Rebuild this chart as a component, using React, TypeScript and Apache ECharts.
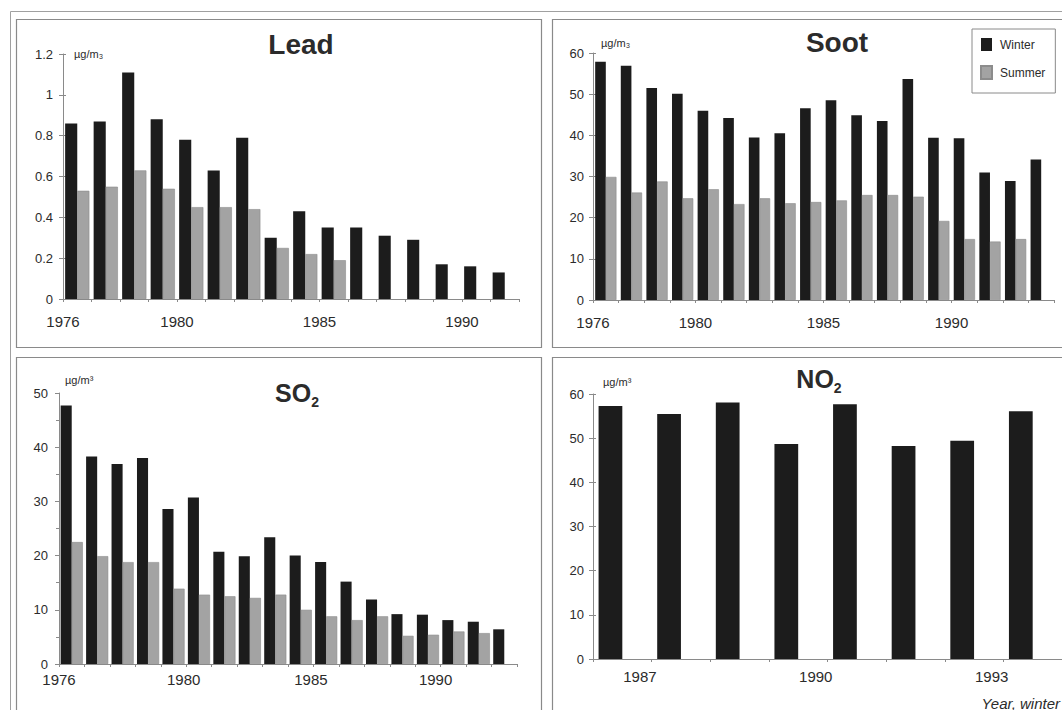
import React, { useEffect, useRef } from 'react';
import * as echarts from 'echarts';

// ---------- DATA ----------
const leadYears = ['1976', '1977', '1978', '1979', '1980', '1981', '1982', '1983', '1984', '1985', '1986', '1987', '1988', '1989', '1990', '1991'];
const leadWinter = [0.86, 0.87, 1.11, 0.88, 0.78, 0.63, 0.79, 0.3, 0.43, 0.35, 0.35, 0.31, 0.29, 0.17, 0.16, 0.13];
const leadSummer = [0.53, 0.55, 0.63, 0.54, 0.45, 0.45, 0.44, 0.25, 0.22, 0.19, null, null, null, null, null, null];

const sootYears = ['1976', '1977', '1978', '1979', '1980', '1981', '1982', '1983', '1984', '1985', '1986', '1987', '1988', '1989', '1990', '1991', '1992', '1993'];
const sootWinter = [57.9, 56.9, 51.5, 50.1, 46.0, 44.2, 39.5, 40.5, 46.6, 48.5, 44.9, 43.5, 53.7, 39.4, 39.3, 31.0, 28.9, 34.1];
const sootSummer = [29.9, 26.1, 28.8, 24.7, 26.9, 23.3, 24.7, 23.5, 23.8, 24.2, 25.5, 25.5, 25.1, 19.2, 14.8, 14.2, 14.8, null];

const so2Years = ['1976', '1977', '1978', '1979', '1980', '1981', '1982', '1983', '1984', '1985', '1986', '1987', '1988', '1989', '1990', '1991', '1992', '1993'];
const so2Winter = [47.7, 38.3, 36.9, 38.0, 28.6, 30.7, 20.7, 19.9, 23.4, 20.0, 18.8, 15.2, 11.9, 9.2, 9.1, 8.1, 7.8, 6.4];
const so2Summer = [22.5, 19.9, 18.8, 18.8, 13.9, 12.8, 12.5, 12.2, 12.8, 10.0, 8.8, 8.1, 8.8, 5.2, 5.4, 6.0, 5.7, null];

const no2Years = ['1987', '1988', '1989', '1990', '1991', '1992', '1993', '1994'];
const no2Winter = [57.3, 55.5, 58.1, 48.7, 57.7, 48.2, 49.4, 56.1];
const no2Summer = [null, null, null, null, null, null, null, null];

const yearTicks7690 = ['1976', '1980', '1985', '1990'];
const no2Ticks = ['1987', '1990', '1993'];

const leadYMax = 1.2, leadYStep = 0.2;
const sootYMax = 60, sootYStep = 10;
const so2YMax = 50, so2YStep = 10;
const no2YMax = 60, no2YStep = 10;

const seriesNames = ['Winter', 'Summer'];
const unitSub = 'µg/m₃';
const unitSup = 'µg/m³';
const xAxisTitle = 'Year, winter';

// ---------- STYLE ----------
const FONT = "'Liberation Sans', Arial, Helvetica, sans-serif";
const AXIS = '#8a8a8a';
const TEXT = '#2b2b2b';
const WINTER = '#1c1c1c';
const SUMMER = '#a3a3a3';

export default function App() {
  const ref = useRef<HTMLDivElement>(null);

  useEffect(() => {
    if (!ref.current) return;
    const chart = echarts.init(ref.current, undefined, { renderer: 'svg' });

    const panels = [
      {
        cats: leadYears, winter: leadWinter, summer: leadSummer, max: leadYMax, step: leadYStep,
        unit: unitSub, labels: yearTicks7690, shift: [0, 0, 0, 0],
        grid: { left: 63, top: 54, width: 456, height: 245 }, gap: '15%',
        xMargin: 15, yMargin: 10, nameGap: 0, namePad: 11, cross: true, minor: false,
      },
      {
        cats: sootYears, winter: sootWinter, summer: sootSummer, max: sootYMax, step: sootYStep,
        unit: unitSub, labels: yearTicks7690, shift: [0, 0, 0, 0],
        grid: { left: 593, top: 53, width: 461, height: 247 }, gap: '17%',
        xMargin: 15, yMargin: 9, nameGap: 10, namePad: 8, cross: true, minor: false,
      },
      {
        cats: so2Years, winter: so2Winter, summer: so2Summer, max: so2YMax, step: so2YStep,
        unit: unitSup, labels: yearTicks7690, shift: [0, 0.9, 0.9, 0.8],
        grid: { left: 59, top: 393, width: 458, height: 271 }, gap: '13%',
        xMargin: 8, yMargin: 11, nameGap: 13, namePad: 6, cross: false, minor: true,
      },
      {
        cats: no2Years, winter: no2Winter, summer: no2Summer, max: no2YMax, step: no2YStep,
        unit: unitSup, labels: no2Ticks, shift: [0.8, 0.8, 0.8],
        grid: { left: 593, top: 394, width: 472, height: 265 }, gap: '19%',
        xMargin: 10, yMargin: 9, nameGap: 12, namePad: 10, cross: true, minor: false,
      },
    ];

    const grids: any[] = [];
    const xAxes: any[] = [];
    const yAxes: any[] = [];
    const series: any[] = [];

    panels.forEach((p, i) => {
      grids.push({ ...p.grid, containLabel: false });
      const pos = p.labels.map((l, k) => p.cats.indexOf(l) + p.shift[k]);
      xAxes.push({
        type: 'category', gridIndex: i, data: p.cats, boundaryGap: true, position: 'bottom',
        axisLine: { show: true, lineStyle: { color: AXIS, width: 1 } },
        axisTick: { show: true, interval: 0, length: 3, lineStyle: { color: AXIS } },
        axisLabel: { show: false }, splitLine: { show: false },
      });
      xAxes.push({
        type: 'value', gridIndex: i, min: 0, max: p.cats.length, position: 'bottom',
        axisLine: { show: false }, axisTick: { show: false }, splitLine: { show: false },
        axisLabel: {
          customValues: pos,
          formatter: (v: number) => {
            const k = pos.findIndex((q) => Math.abs(q - v) < 1e-6);
            return k >= 0 ? p.labels[k] : '';
          },
          margin: p.xMargin, fontSize: 15, color: TEXT, fontFamily: FONT,
        },
      });
      yAxes.push({
        type: 'value', gridIndex: i, min: 0, max: p.max, interval: p.step, position: 'left',
        name: p.unit, nameLocation: 'end', nameGap: p.nameGap,
        nameTextStyle: { align: 'left', verticalAlign: 'middle', padding: [0, 0, 0, p.namePad], fontSize: 11, color: TEXT, fontFamily: FONT },
        axisLine: { show: true, lineStyle: { color: AXIS, width: 1 } },
        axisTick: { show: true, length: 4, lineStyle: { color: AXIS } },
        minorTick: { show: p.minor, splitNumber: 2, length: 3, lineStyle: { color: AXIS } },
        axisLabel: { margin: p.yMargin, fontSize: 13, color: TEXT, fontFamily: FONT },
        splitLine: { show: false },
      });
      yAxes.push({
        type: 'value', gridIndex: i, min: 0, max: p.max, interval: p.step, position: 'left', offset: 0,
        axisLine: { show: false },
        axisTick: { show: p.cross, inside: true, length: 3, lineStyle: { color: AXIS } },
        axisLabel: { show: false }, splitLine: { show: false },
      });
      series.push({
        type: 'bar', name: seriesNames[0], xAxisIndex: 2 * i, yAxisIndex: 2 * i, data: p.winter,
        barGap: '0%', barCategoryGap: p.gap, itemStyle: { color: WINTER },
      });
      series.push({
        type: 'bar', name: seriesNames[1], xAxisIndex: 2 * i, yAxisIndex: 2 * i, data: p.summer,
        barGap: '0%', barCategoryGap: p.gap, itemStyle: { color: SUMMER, borderColor: '#8c8c8c', borderWidth: 0.6 },
      });
    });

    const richSub = {
      a: { fontSize: 25, fontWeight: 'bold', color: TEXT, lineHeight: 28, verticalAlign: 'top', fontFamily: FONT },
      b: { fontSize: 14, fontWeight: 'bold', color: TEXT, lineHeight: 14, padding: [15, 0, 0, 0], verticalAlign: 'top', fontFamily: FONT },
    };
    const titleBase = { padding: 0, textAlign: 'center' as const };
    const option: any = {
      animation: false,
      backgroundColor: '#ffffff',
      textStyle: { fontFamily: FONT },
      title: [
        { ...titleBase, text: 'Lead', left: 301, top: 30, textStyle: { fontSize: 28, fontWeight: 'bold', color: TEXT, fontFamily: FONT } },
        { ...titleBase, text: 'Soot', left: 837, top: 28, textStyle: { fontSize: 28, fontWeight: 'bold', color: TEXT, fontFamily: FONT } },
        { ...titleBase, text: '{a|SO}{b|2}', left: 297, top: 380, textStyle: { fontFamily: FONT, rich: richSub } },
        { ...titleBase, text: '{a|NO}{b|2}', left: 819, top: 366, textStyle: { fontFamily: FONT, rich: richSub } },
      ],
      legend: {
        data: seriesNames, left: 972, top: 29, orient: 'vertical', icon: 'rect',
        itemWidth: 11, itemHeight: 13, itemGap: 14, selectedMode: false,
        borderColor: AXIS, borderWidth: 1, padding: [9, 10, 13, 8],
        textStyle: { fontSize: 12, color: TEXT, fontFamily: FONT, padding: [0, 0, 0, 3] },
      },
      grid: grids,
      xAxis: xAxes,
      yAxis: yAxes,
      series,
      graphic: [
        { type: 'rect', silent: true, z: -10, shape: { x: 10.5, y: 11.5, width: 1100, height: 800 }, style: { fill: 'none', stroke: '#a0a0a0', lineWidth: 1 } },
        { type: 'rect', silent: true, z: -10, shape: { x: 16.5, y: 19.5, width: 525, height: 328 }, style: { fill: 'none', stroke: AXIS, lineWidth: 1.2 } },
        { type: 'rect', silent: true, z: -10, shape: { x: 552.5, y: 19.5, width: 560, height: 328 }, style: { fill: 'none', stroke: AXIS, lineWidth: 1.2 } },
        { type: 'rect', silent: true, z: -10, shape: { x: 16.5, y: 357.5, width: 525, height: 400 }, style: { fill: 'none', stroke: AXIS, lineWidth: 1.2 } },
        { type: 'rect', silent: true, z: -10, shape: { x: 552.5, y: 357.5, width: 560, height: 400 }, style: { fill: 'none', stroke: AXIS, lineWidth: 1.2 } },
        {
          type: 'text', x: 1060, y: 703, silent: true,
          style: { text: xAxisTitle, align: 'right', verticalAlign: 'middle', fontSize: 15, fontStyle: 'italic', fontFamily: FONT, fill: TEXT },
        },
      ],
    };

    chart.setOption(option);
    return () => chart.dispose();
  }, []);

  return <div ref={ref} style={{ position: 'absolute', left: 0, top: 0, width: 1062, height: 710 }} />;
}
